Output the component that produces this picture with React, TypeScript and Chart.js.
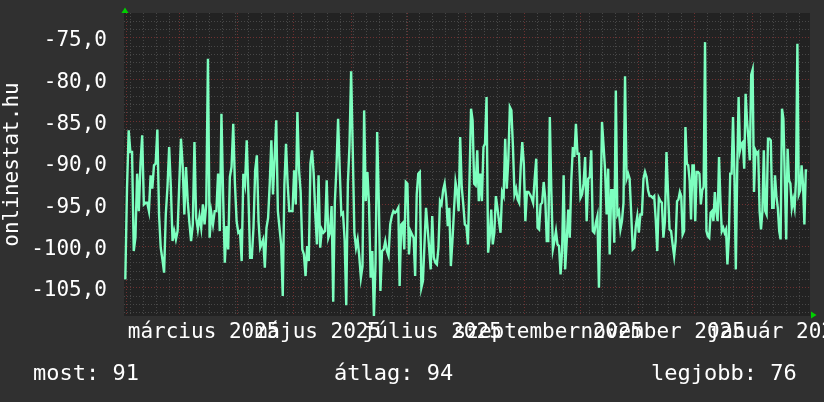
import React, { useEffect, useRef } from 'react';
import { Chart, registerables } from 'chart.js';

Chart.register(...registerables);

// ---- data (days counted from 1 Jan 2025 = 0) ----
const SEGMENT_START_DAYS = [30.2, 103.8, 176.6, 250.2, 323.9];
const SEGMENT_END_DAYS = [102.2, 175.9, 249.5, 323.1, 394.1];

const seg1 = [-104.0, -93.1, -86.1, -88.7, -88.7, -100.6, -99.0, -91.3, -95.8, -90.1, -86.7, -95.0, -94.8, -94.8, -95.8, -91.5, -93.1, -90.3, -90.1, -86.0, -96.2, -100.2, -101.6, -103.2, -96.2, -92.9, -88.1, -92.9, -99.4, -98.2, -99.2, -98.2, -92.5, -87.1, -90.3, -96.2, -90.5, -94.6, -97.2, -99.4, -97.4, -87.5, -96.6, -98.0, -96.4, -97.8, -95.0, -97.4, -95.0, -77.5, -99.0, -96.0, -97.4, -95.8, -95.8, -91.3, -98.2, -84.1, -94.0, -102.0, -97.6, -100.4, -91.7, -90.5, -85.3, -92.5, -97.0, -98.4, -98.2, -101.8, -91.3, -92.5, -87.3, -93.8, -101.4, -101.4, -97.8, -90.9, -89.1, -97.0, -100.2];
const seg2 = [-99.2, -102.6, -97.8, -96.6, -92.5, -87.3, -93.8, -89.3, -84.9, -95.8, -97.8, -99.8, -106.0, -92.7, -87.7, -92.5, -95.8, -95.8, -95.8, -90.9, -95.0, -83.9, -90.9, -93.5, -100.4, -101.0, -103.6, -100.0, -101.8, -90.1, -88.5, -91.3, -96.2, -99.8, -91.5, -100.2, -98.0, -98.4, -98.2, -92.1, -99.0, -98.4, -95.2, -106.7, -94.8, -90.5, -84.7, -90.9, -96.2, -96.0, -99.2, -107.1, -92.5, -87.9, -79.0, -88.5, -98.4, -100.2, -99.2, -101.2, -103.8, -102.4, -83.7, -94.6, -91.1, -95.0, -103.8, -100.6, -108.5, -102.0, -86.3, -94.6, -105.4, -100.6, -100.4, -99.4, -100.6, -101.2, -97.4, -96.4, -95.8, -96.0, -95.8, -95.4];
const seg3 = [-104.8, -97.4, -97.2, -100.4, -92.3, -92.5, -101.0, -98.2, -98.6, -99.0, -103.6, -93.8, -91.3, -91.1, -105.0, -104.2, -99.8, -95.4, -97.8, -100.2, -102.8, -96.4, -101.4, -102.0, -102.2, -100.2, -94.6, -95.0, -93.3, -92.5, -94.2, -97.6, -95.4, -102.4, -99.4, -95.8, -92.3, -93.5, -95.8, -86.9, -92.9, -95.0, -97.4, -97.6, -99.8, -92.1, -83.5, -84.9, -92.5, -92.7, -88.5, -94.6, -91.3, -94.6, -88.1, -87.7, -82.1, -100.8, -99.0, -95.6, -99.8, -98.4, -94.0, -95.4, -97.0, -98.4, -93.5, -94.0, -87.1, -93.1, -89.7, -83.3, -83.7, -88.1, -93.8, -93.1, -94.4, -94.8, -90.5, -87.5, -90.1, -97.0, -93.5, -93.5, -93.8, -94.2, -94.8, -91.9, -89.5];
const seg4 = [-97.8, -98.0, -95.0, -94.8, -92.3, -94.2, -99.4, -99.4, -84.5, -93.5, -100.4, -99.4, -98.2, -99.8, -100.0, -103.4, -100.6, -91.5, -102.8, -99.4, -95.6, -99.0, -92.1, -88.1, -89.3, -85.3, -88.9, -88.9, -94.2, -93.8, -92.5, -89.3, -97.0, -91.9, -91.7, -88.5, -98.2, -98.4, -97.2, -96.4, -105.0, -96.2, -85.1, -87.9, -90.9, -96.2, -90.7, -101.0, -93.3, -93.3, -99.6, -81.3, -96.2, -95.8, -98.0, -97.0, -94.8, -79.6, -91.9, -91.3, -91.9, -96.0, -100.4, -100.2, -97.6, -96.4, -98.4, -96.2, -96.2, -91.9, -91.1, -91.7, -93.3, -94.0, -94.0, -94.2, -94.0, -96.8, -100.6, -94.2, -94.6, -94.8, -99.0, -97.0, -88.7, -93.5, -98.0, -98.2, -99.8, -101.2];
const seg5 = [-99.4, -94.6, -94.4, -93.5, -94.0, -98.6, -98.2, -85.7, -90.1, -90.3, -92.1, -96.8, -90.3, -90.3, -97.0, -91.1, -91.1, -91.3, -95.0, -93.3, -92.9, -75.5, -98.2, -98.8, -99.0, -96.0, -95.8, -97.0, -93.5, -95.8, -97.0, -89.3, -94.6, -98.2, -97.8, -98.4, -98.0, -102.2, -99.0, -91.3, -91.3, -84.5, -91.3, -102.8, -90.9, -82.1, -88.5, -87.7, -87.5, -90.7, -81.7, -84.9, -87.1, -89.7, -79.4, -78.8, -93.5, -88.5, -88.9, -88.7, -95.8, -98.0, -95.8, -88.5, -95.8, -96.2, -87.1, -87.1, -87.3, -95.4, -95.4, -91.5, -94.0, -95.4, -98.2, -99.2, -83.5, -84.7, -91.9, -99.2, -88.3, -92.1, -92.5, -95.4, -94.4, -95.4, -92.1, -75.7, -93.8, -93.3, -90.3, -92.5, -97.4, -90.9, -90.9];
const SEGMENTS = [seg1, seg2, seg3, seg4, seg5];

// ---- axes ----
const X_MIN = 29.5;
const X_MAX = 395.6;
const Y_MIN = -108.4;
const Y_MAX = -72.0;
const MONTH_START_DAYS = [31, 59, 90, 120, 151, 181, 212, 243, 273, 304, 334, 365];
const WEEK_START_DAYS = [33, 40, 47, 54, 61, 68, 75, 82, 89, 96, 103, 110, 117, 124, 131, 138, 145, 152, 159, 166, 173, 180, 187, 194, 201, 208, 215, 222, 229, 236, 243, 250, 257, 264, 271, 278, 285, 292, 299, 306, 313, 320, 327, 334, 341, 348, 355, 362, 369, 376, 383, 390];
const LABEL_DAYS = [72, 133, 194, 256, 317, 378];
const MONTH_LABELS = ['március 2025', 'május 2025', 'július 2025', 'szeptember 2025', 'november 2025', 'január 2026'];
const Y_MAJOR_TICKS = [-105, -100, -95, -90, -85, -80, -75];
const Y_MINOR_TICKS = [-108, -107, -106, -104, -103, -102, -101, -99, -98, -97, -96, -94, -93, -92, -91, -89, -88, -87, -86, -84, -83, -82, -81, -79, -78, -77, -76, -74, -73];
const Y_TITLE = 'onlinestat.hu';
const SUMMARY = ['most: 91', 'átlag: 94', 'legjobb: 76'];

const FONT = 'DejaVu Sans Mono';
const OUTER_BG = '#303030';
const PLOT_BG = '#222222';
const MINOR_GRID = '#474747';
const MAJOR_GRID = '#6e3030';
const LINE_COLOR = '#7dffbf';
const ARROW_COLOR = '#00d000';

function buildPoints() {
  const pts: { x: number; y: number }[] = [];
  SEGMENTS.forEach((vals, i) => {
    const a = SEGMENT_START_DAYS[i];
    const b = SEGMENT_END_DAYS[i];
    vals.forEach((v, j) => {
      pts.push({ x: a + ((b - a) * j) / (vals.length - 1), y: v });
    });
  });
  return pts;
}

const bgPlugin = {
  id: 'bgPlugin',
  beforeDraw(chart: any) {
    const { ctx, chartArea } = chart;
    ctx.save();
    ctx.fillStyle = OUTER_BG;
    ctx.fillRect(0, 0, chart.width, chart.height);
    ctx.fillStyle = PLOT_BG;
    ctx.fillRect(chartArea.left, chartArea.top, chartArea.right - chartArea.left, chartArea.bottom - chartArea.top);
    ctx.restore();
  },
  afterDraw(chart: any) {
    const { ctx, chartArea } = chart;
    ctx.save();
    ctx.fillStyle = ARROW_COLOR;
    const ax = chartArea.left + 1;
    const ay = chartArea.top;
    ctx.beginPath();
    ctx.moveTo(ax - 3.5, ay);
    ctx.lineTo(ax + 3.5, ay);
    ctx.lineTo(ax, ay - 5.5);
    ctx.closePath();
    ctx.fill();
    const bx = chartArea.right + 1;
    const by = chartArea.bottom - 1;
    ctx.beginPath();
    ctx.moveTo(bx, by - 3.5);
    ctx.lineTo(bx, by + 3.5);
    ctx.lineTo(bx + 5.5, by);
    ctx.closePath();
    ctx.fill();
    ctx.restore();
  },
};

function gridAxis(axis: 'x' | 'y', values: number[], color: string, min: number, max: number) {
  return {
    type: 'linear',
    axis,
    position: axis === 'x' ? 'bottom' : 'left',
    min,
    max,
    afterBuildTicks: (scale: any) => {
      scale.ticks = values.map((v) => ({ value: v }));
    },
    afterFit: (scale: any) => {
      if (axis === 'x') scale.height = 0;
      else scale.width = 0;
      scale.paddingLeft = 0;
      scale.paddingRight = 0;
      scale.paddingTop = 0;
      scale.paddingBottom = 0;
    },
    ticks: { display: false },
    grid: { color, lineWidth: 1, drawTicks: false, drawOnChartArea: true },
    border: { display: false, dash: [1, 2] },
  };
}

export default function App() {
  const canvasRef = useRef<HTMLCanvasElement | null>(null);

  useEffect(() => {
    const canvas = canvasRef.current;
    if (!canvas) return;
    const chart = new Chart(canvas, {
      type: 'line',
      data: {
        datasets: [
          {
            data: buildPoints(),
            borderColor: LINE_COLOR,
            borderWidth: 2.4,
            pointRadius: 0,
            tension: 0,
            fill: false,
            xAxisID: 'x',
            yAxisID: 'y',
          },
        ],
      },
      options: {
        responsive: false,
        animation: false,
        events: [],
        layout: { padding: { top: 13, right: 14, left: 0, bottom: 0 } },
        plugins: { legend: { display: false }, tooltip: { enabled: false } },
        scales: {
          xMinor: gridAxis('x', WEEK_START_DAYS, MINOR_GRID, X_MIN, X_MAX),
          yMinor: gridAxis('y', Y_MINOR_TICKS, MINOR_GRID, Y_MIN, Y_MAX),
          xMajor: gridAxis('x', MONTH_START_DAYS, MAJOR_GRID, X_MIN, X_MAX),
          x: {
            type: 'linear',
            position: 'bottom',
            min: X_MIN,
            max: X_MAX,
            afterBuildTicks: (scale: any) => {
              scale.ticks = LABEL_DAYS.map((v) => ({ value: v }));
            },
            afterFit: (scale: any) => {
              scale.height = 86;
              scale.paddingLeft = 0;
              scale.paddingRight = 0;
            },
            grid: { display: false, drawTicks: false },
            border: { display: false },
            ticks: {
              autoSkip: false,
              maxRotation: 0,
              minRotation: 0,
              padding: 4,
              color: '#ffffff',
              font: { family: FONT, size: 21 },
              callback: (value: any) => {
                const i = LABEL_DAYS.indexOf(Number(value));
                return i >= 0 ? MONTH_LABELS[i] : '';
              },
            },
          },
          y: {
            type: 'linear',
            position: 'left',
            min: Y_MIN,
            max: Y_MAX,
            afterBuildTicks: (scale: any) => {
              scale.ticks = Y_MAJOR_TICKS.map((v) => ({ value: v }));
            },
            afterFit: (scale: any) => {
              scale.width = 124;
              scale.paddingTop = 0;
              scale.paddingBottom = 0;
            },
            grid: { color: MAJOR_GRID, lineWidth: 1, drawTicks: false },
            border: { display: false, dash: [1, 2] },
            ticks: {
              padding: 17,
              labelOffset: 3,
              color: '#ffffff',
              font: { family: FONT, size: 21 },
              callback: (value: any) => Number(value).toFixed(1).replace('.', ','),
            },
            title: {
              display: true,
              text: Y_TITLE,
              color: '#ffffff',
              font: { family: FONT, size: 21 },
              padding: 0,
            },
          },
        },
      } as any,
      plugins: [bgPlugin],
    });
    return () => chart.destroy();
  }, []);

  const summaryLeft = [33, 334, 651];

  return (
    <div style={{ position: 'absolute', left: 0, top: 0, width: 824, height: 402, background: OUTER_BG, overflow: 'hidden' }}>
      <canvas ref={canvasRef} width={824} height={402} style={{ display: 'block', width: 824, height: 402 }} />
      {SUMMARY.map((t, i) => (
        <div
          key={t}
          style={{
            position: 'absolute',
            left: summaryLeft[i],
            top: 362,
            fontFamily: FONT,
            fontSize: 22,
            lineHeight: '22px',
            color: '#ffffff',
            whiteSpace: 'pre',
          }}
        >
          {t}
        </div>
      ))}
    </div>
  );
}
